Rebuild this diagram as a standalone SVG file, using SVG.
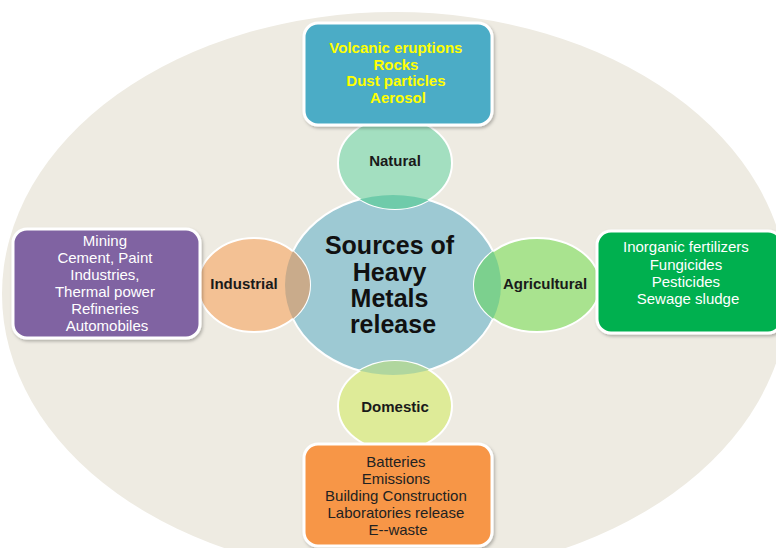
<svg xmlns="http://www.w3.org/2000/svg" width="776" height="548" viewBox="0 0 776 548">
<defs>
<style>
.lbl{font-family:"Liberation Sans",Arial,sans-serif;font-weight:bold;font-size:15px;fill:#1a1a1a;text-anchor:middle}
.box{stroke:#ffffff;stroke-width:3}
.bt{font-family:"Liberation Sans",Arial,sans-serif;font-size:15px;text-anchor:middle}
.circ{stroke:#ffffff;stroke-width:2}
</style>
<filter id="sh" x="-10%" y="-10%" width="125%" height="130%">
<feDropShadow dx="1.5" dy="2" stdDeviation="1.5" flood-color="#000" flood-opacity="0.25"/>
</filter>
<clipPath id="cc"><ellipse cx="393" cy="285" rx="108" ry="90"/></clipPath>
</defs>
<rect width="776" height="548" fill="#ffffff"/>
<ellipse id="background" cx="395" cy="294" rx="393" ry="282" fill="#EEEBE2"/>

<g id="center">
<ellipse class="circ" cx="393" cy="285" rx="108" ry="90" fill="#9DC9D3"/>
</g>

<g id="natural">
<ellipse class="circ" cx="395" cy="163" rx="57" ry="46" fill="#A3DFC0"/>
<ellipse cx="395" cy="163" rx="57" ry="46" fill="#6FCBAA" clip-path="url(#cc)"/>
<text class="lbl" x="395" y="166">Natural</text>
</g>

<g id="industrial">
<ellipse class="circ" cx="254" cy="285" rx="56" ry="47" fill="#F3C194"/>
<ellipse cx="254" cy="285" rx="56" ry="47" fill="#C9AB8B" clip-path="url(#cc)"/>
<text class="lbl" x="244" y="289">Industrial</text>
</g>

<g id="agricultural">
<ellipse class="circ" cx="537" cy="285" rx="63" ry="47" fill="#A9E38F"/>
<ellipse cx="537" cy="285" rx="63" ry="47" fill="#7CD08E" clip-path="url(#cc)"/>
<text class="lbl" x="545" y="289">Agricultural</text>
</g>

<g id="domestic">
<ellipse class="circ" cx="395" cy="406" rx="57" ry="45" fill="#DEEB98"/>
<ellipse cx="395" cy="406" rx="57" ry="45" fill="#B0D69E" clip-path="url(#cc)"/>
<text class="lbl" x="395" y="412">Domestic</text>
</g>

<g id="center-label">
<text font-family="'Liberation Sans',Arial,sans-serif" font-weight="bold" font-size="25" fill="#111" text-anchor="middle">
<tspan x="393" y="254">Sources of</tspan>
<tspan x="393" y="281">Heavy</tspan>
<tspan x="393" y="307">Metals</tspan>
<tspan x="393" y="333">release</tspan>
</text>
</g>

<g id="natural-box">
<rect class="box" x="304" y="23" width="188" height="102" rx="14" fill="#4BACC6" filter="url(#sh)"/>
<text class="bt" font-weight="bold" font-size="14.5" fill="#FFFF00">
<tspan x="398" y="53">Volcanic eruptions</tspan>
<tspan x="398" y="70">Rocks</tspan>
<tspan x="398" y="86">Dust particles</tspan>
<tspan x="398" y="103">Aerosol</tspan>
</text>
</g>

<g id="industrial-box">
<rect class="box" x="13" y="229" width="187" height="109" rx="14" fill="#8064A2" filter="url(#sh)"/>
<text class="bt" fill="#ffffff">
<tspan x="107" y="246">Mining</tspan>
<tspan x="107" y="263">Cement, Paint</tspan>
<tspan x="107" y="280">Industries,</tspan>
<tspan x="107" y="297">Thermal power</tspan>
<tspan x="107" y="314">Refineries</tspan>
<tspan x="107" y="331">Automobiles</tspan>
</text>
</g>

<g id="agricultural-box">
<rect class="box" x="597" y="231" width="185" height="102" rx="14" fill="#00B050" filter="url(#sh)"/>
<text class="bt" fill="#ffffff">
<tspan x="688" y="252">Inorganic fertilizers</tspan>
<tspan x="688" y="270">Fungicides</tspan>
<tspan x="688" y="287">Pesticides</tspan>
<tspan x="688" y="304">Sewage sludge</tspan>
</text>
</g>

<g id="domestic-box">
<rect class="box" x="304" y="444" width="188" height="102" rx="14" fill="#F79646" filter="url(#sh)"/>
<text class="bt" fill="#222222">
<tspan x="398" y="467">Batteries</tspan>
<tspan x="398" y="484">Emissions</tspan>
<tspan x="398" y="501">Building Construction</tspan>
<tspan x="398" y="518">Laboratories release</tspan>
<tspan x="398" y="535">E--waste</tspan>
</text>
</g>
</svg>
